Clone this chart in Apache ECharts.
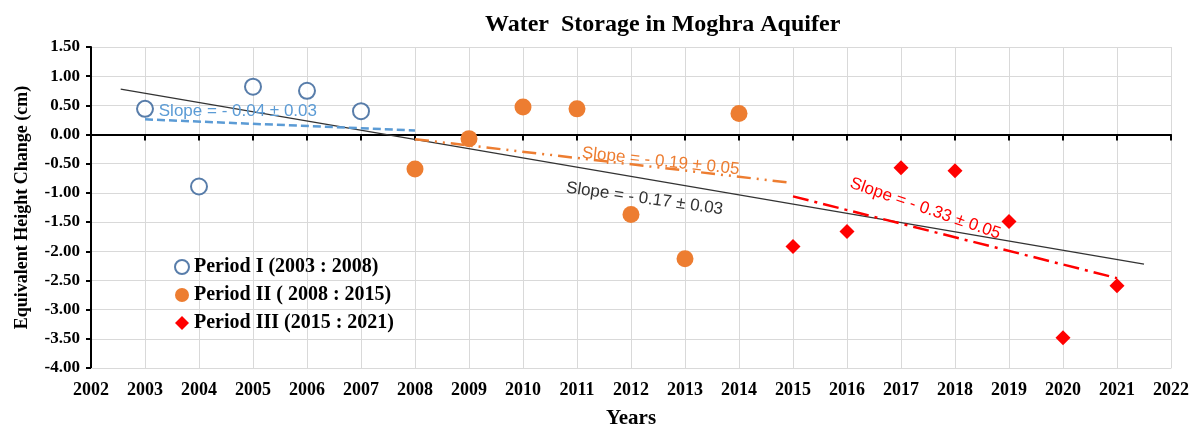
<!DOCTYPE html>
<html>
<head>
<meta charset="utf-8">
<title>Water Storage in Moghra Aquifer</title>
<script src="https://cdn.jsdelivr.net/npm/echarts@6/dist/echarts.min.js"></script>
<style>
  html, body { margin: 0; padding: 0; background: #fff; }
  #chart { width: 1198px; height: 427px; }
</style>
</head>
<body>
<div id="chart"></div>
<script>
const period1Years = [2003, 2004, 2005, 2006, 2007]
const period1Values = [0.44, -0.89, 0.82, 0.75, 0.40]
const period2Years = [2008, 2009, 2010, 2011, 2012, 2013, 2014]
const period2Values = [-0.59, -0.07, 0.47, 0.44, -1.37, -2.13, 0.36]
const period3Years = [2015, 2016, 2017, 2018, 2019, 2020, 2021]
const period3Values = [-1.92, -1.66, -0.57, -0.62, -1.49, -3.48, -2.59]

// fitted trend lines (end points)
const trendAllX = [2002.55, 2021.5]
const trendAllY = [0.78, -2.22]
const trend1X = [2003, 2008]
const trend1Y = [0.26, 0.07]
const trend2X = [2008, 2014.9]
const trend2Y = [-0.08, -0.82]
const trend3X = [2015, 2021]
const trend3Y = [-1.06, -2.46]

const slopeLabels = ['Slope = - 0.17 ± 0.03', 'Slope = - 0.04 ± 0.03', 'Slope = - 0.19 ± 0.05', 'Slope = - 0.33 ± 0.05']
const slopeLabelAt = [[2012.25, -1.1], [2004.72, 0.39], [2012.55, -0.46], [2017.45, -1.27]]

const legendNames = ['Period I (2003 : 2008)', 'Period II ( 2008 : 2015)', 'Period III (2015 : 2021)']

const pairs = (xs, ys) => xs.map((x, i) => [x, ys[i]])

const serif = 'Liberation Serif'
const sans = 'Liberation Sans'

const chart = echarts.init(document.getElementById('chart'))

const trendSeries = (name, xs, ys, color, width, dash, labelIdx, rotate) => ({
  name,
  type: 'line',
  data: pairs(xs, ys),
  symbol: 'none',
  silent: true,
  z: 1,
  lineStyle: { color, width, type: dash },
  markPoint: {
    symbolSize: 0,
    silent: true,
    data: [{
      coord: slopeLabelAt[labelIdx],
      label: {
        show: true,
        formatter: slopeLabels[labelIdx],
        rotate,
        color,
        fontFamily: sans,
        fontSize: 17
      }
    }]
  }
})

const option = {
  animation: false,
  backgroundColor: '#fff',
  title: {
    text: 'Water  Storage in Moghra Aquifer',
    left: 480,
    top: 8,
    textStyle: { fontFamily: serif, fontWeight: 'bold', fontSize: 24, color: '#000' }
  },
  legend: {
    data: legendNames,
    orient: 'vertical',
    left: 169,
    top: 252,
    itemWidth: 14,
    itemHeight: 14,
    itemGap: 8,
    textStyle: { fontFamily: serif, fontWeight: 'bold', fontSize: 20, color: '#000' }
  },
  grid: { left: 91, right: 27, top: 47, bottom: 59, outerBoundsMode: 'none' },
  xAxis: [
    {
      type: 'value',
      min: 2002,
      max: 2022,
      interval: 1,
      name: 'Years',
      nameLocation: 'middle',
      nameGap: 40,
      nameTextStyle: { fontFamily: serif, fontWeight: 'bold', fontSize: 21, color: '#000' },
      axisLine: { onZero: false, lineStyle: { color: '#d9d9d9' } },
      axisTick: { show: false },
      axisLabel: {
        margin: 13,
        fontFamily: serif,
        fontWeight: 'bold',
        fontSize: 18,
        color: '#000',
        formatter: v => String(v)
      },
      splitLine: { show: true, lineStyle: { color: '#d9d9d9', width: 1 } }
    },
    {
      type: 'value',
      min: 2002,
      max: 2022,
      interval: 1,
      position: 'bottom',
      axisLine: { onZero: true, onZeroAxisIndex: 0, lineStyle: { color: '#000', width: 2 } },
      axisTick: { show: true, length: 6, lineStyle: { color: '#000', width: 2 } },
      axisLabel: { show: false },
      splitLine: { show: false }
    }
  ],
  yAxis: {
    type: 'value',
    min: -4,
    max: 1.5,
    interval: 0.5,
    name: 'Equivalent Height Change (cm)',
    nameLocation: 'middle',
    nameGap: 60,
    nameTextStyle: { fontFamily: serif, fontWeight: 'bold', fontSize: 18, color: '#000' },
    axisLine: { show: true, lineStyle: { color: '#000', width: 2 } },
    axisTick: { show: true, length: 5, lineStyle: { color: '#000', width: 2 } },
    axisLabel: {
      margin: 11,
      fontFamily: serif,
      fontWeight: 'bold',
      fontSize: 17,
      color: '#000',
      formatter: v => v.toFixed(2)
    },
    splitLine: { show: true, lineStyle: { color: '#d9d9d9', width: 1 } }
  },
  series: [
    trendSeries('Trend all', trendAllX, trendAllY, '#333', 1.3, 'solid', 0, -8),
    trendSeries('Trend I', trend1X, trend1Y, '#5B9BD5', 2.5, [8, 4], 1, 0),
    trendSeries('Trend II', trend2X, trend2Y, '#ED7D31', 2.5, [14, 6, 2, 6, 2, 6], 2, -6),
    trendSeries('Trend III', trend3X, trend3Y, '#FF0000', 2.5, [16, 6, 3, 6], 3, -19),
    {
      name: legendNames[0],
      type: 'scatter',
      data: pairs(period1Years, period1Values),
      symbol: 'emptyCircle',
      symbolSize: 16,
      z: 3,
      itemStyle: { color: '#2E5D95', borderWidth: 1.5 }
    },
    {
      name: legendNames[1],
      type: 'scatter',
      data: pairs(period2Years, period2Values),
      symbol: 'circle',
      symbolSize: 17,
      z: 3,
      itemStyle: { color: '#ED7D31', opacity: 1 }
    },
    {
      name: legendNames[2],
      type: 'scatter',
      data: pairs(period3Years, period3Values),
      symbol: 'diamond',
      symbolSize: 15,
      z: 3,
      itemStyle: { color: '#FF0000', opacity: 1 }
    }
  ]
}

chart.setOption(option)
window.addEventListener('resize', () => chart.resize())
</script>
</body>
</html>
